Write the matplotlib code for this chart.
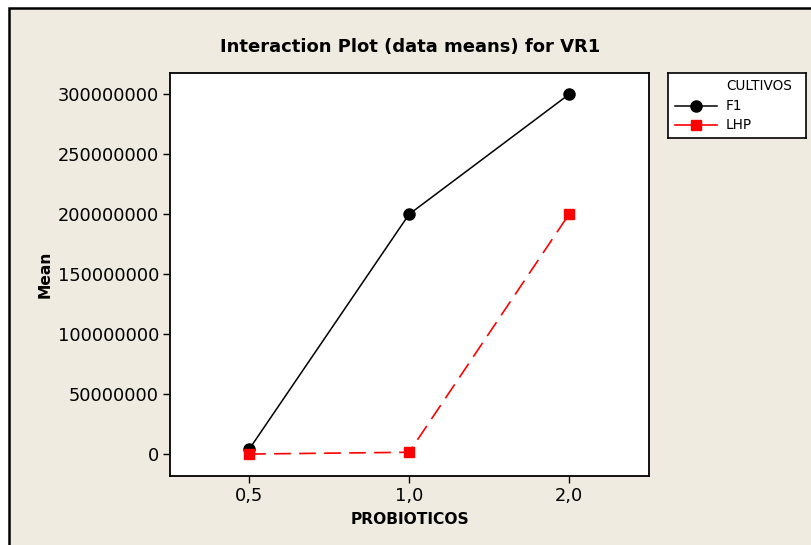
import matplotlib
matplotlib.use("Agg")
import matplotlib.pyplot as plt
from matplotlib.patches import Rectangle
from matplotlib.lines import Line2D

# Data
categories = ["0,5", "1,0", "2,0"]
f1_means = [4000000, 200000000, 300000000]
lhp_means = [0, 1500000, 200000000]
yticks = [0, 50000000, 100000000, 150000000, 200000000, 250000000, 300000000]
series_names = ["F1", "LHP"]
legend_title = "CULTIVOS"

W, H = 811, 545
plt.rcParams['font.family'] = ['DejaVu Sans']
fig = plt.figure(figsize=(W / 100, H / 100), dpi=100, facecolor="white")

bg = "#EFEBE1"
fig.patches.append(Rectangle((9 / W, -0.05), 1.2, 1 - 8 / H + 0.05, transform=fig.transFigure,
                             facecolor=bg, edgecolor="black", lw=1.8, zorder=-10))

# Main axes: x 170-649, y 73-476 (pixels)
ax = fig.add_axes([170 / W, 1 - 476 / H, (649 - 170) / W, (476 - 73) / H])
ax.set_facecolor("white")
x = list(range(1, len(categories) + 1))
ax.plot(x, f1_means, color="black", lw=1.1, marker="o", markersize=8, zorder=3)
ax.plot(x, lhp_means, color="#FF0000", lw=1.2, marker="s", markersize=7,
        dashes=(10, 5), zorder=4)
ax.set_xlim(0.505, 3.5)
ax.set_ylim(-18300000, 317800000)
ax.set_xticks(x)
ax.set_xticklabels(categories)
ax.set_yticks(yticks)
ax.set_yticklabels([str(v) for v in yticks])
ax.tick_params(direction="out", length=5, width=1, labelsize=12.8, pad=3, colors="black")
for s in ax.spines.values():
    s.set_linewidth(1.3)
ax.set_xlabel("PROBIOTICOS", fontsize=11.2, fontweight="bold", labelpad=5)
ax.set_ylabel("Mean", fontsize=11.2, fontweight="bold")
ax.yaxis.set_label_coords((53 - 170) / (649 - 170), 0.5)
fig.text(410 / W, 1 - 47 / H, "Interaction Plot (data means) for VR1", ha="center", va="center",
         fontsize=13, fontweight="bold")

# Legend box: x 668-806, y 73-138
lax = fig.add_axes([668 / W, 1 - 138 / H, (806 - 668) / W, (138 - 73) / H])
lax.set_xlim(0, 138)
lax.set_ylim(65, 0)
lax.set_xticks([])
lax.set_yticks([])
lax.set_facecolor("white")
for s in lax.spines.values():
    s.set_linewidth(1.2)
lax.text(58, 13, legend_title, fontsize=9.8, va="center", ha="left")
lax.add_line(Line2D([7, 49], [33, 33], color="black", lw=1.1))
lax.plot([28], [33], marker="o", color="black", markersize=8)
lax.add_line(Line2D([7, 49], [52, 52], color="#FF0000", lw=1.2))
lax.plot([28], [52], marker="s", color="#FF0000", markersize=7)
lax.text(58, 33, series_names[0], fontsize=9.8, va="center", ha="left")
lax.text(58, 52, series_names[1], fontsize=9.8, va="center", ha="left")

fig.savefig("out.png", dpi=100, facecolor=fig.get_facecolor())
